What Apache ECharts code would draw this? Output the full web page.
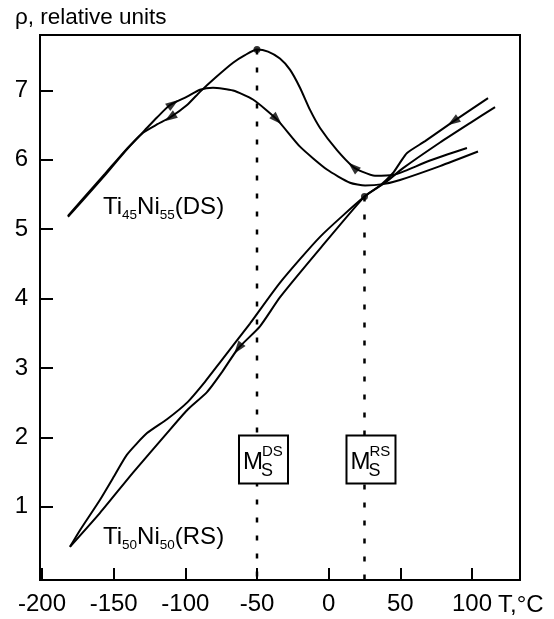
<!DOCTYPE html>
<html>
<head>
<meta charset="utf-8">
<script src="https://cdn.jsdelivr.net/npm/echarts@6/dist/echarts.min.js"></script>
<style>
html, body { margin: 0; padding: 0; background: #fff; }
#main { width: 554px; height: 619px; }
</style>
</head>
<body>
<div id="main"></div>
<script>
// axis ticks
const xTicks = [-200, -150, -100, -50, 0, 50, 100]
const yTicks = [1, 2, 3, 4, 5, 6, 7]

// Ti45Ni55 (DS): heating and cooling, [T, rho]
const dsHeating = [
  [-181.9, 5.19], [-171.4, 5.44], [-156.0, 5.80], [-142.1, 6.13], [-129.5, 6.40],
  [-119.8, 6.61], [-110.7, 6.79], [-98.8, 6.91], [-89.8, 7.01], [-80.7, 7.04],
  [-66.7, 7.00], [-52.8, 6.87], [-36.0, 6.58], [-20.0, 6.19], [-1.2, 5.86],
  [14.9, 5.67], [25.4, 5.63], [37.9, 5.65], [49.8, 5.71], [77.7, 5.91], [104.2, 6.12]
]
const dsCooling = [
  [96.5, 6.17], [70.7, 5.99], [53.3, 5.84], [44.9, 5.78], [32.3, 5.77], [23.3, 5.83],
  [17.0, 5.90], [5.8, 6.14], [-6.0, 6.46], [-13.0, 6.72], [-20.0, 7.04], [-27.0, 7.30],
  [-34.0, 7.46], [-42.3, 7.56], [-50.0, 7.59], [-58.4, 7.51], [-66.7, 7.40], [-79.3, 7.18],
  [-89.8, 6.98], [-98.8, 6.79], [-110.7, 6.61], [-119.8, 6.51], [-129.5, 6.39],
  [-142.1, 6.12], [-156.0, 5.78], [-171.4, 5.42], [-181.9, 5.18]
]

// Ti50Ni50 (RS)
const rsHeating = [
  [-180.5, 0.42], [-173.5, 0.66], [-159.5, 1.10], [-149.1, 1.46], [-140.7, 1.75],
  [-126.7, 2.06], [-112.8, 2.26], [-98.8, 2.50], [-86.3, 2.80], [-75.8, 3.08],
  [-54.9, 3.64], [-33.9, 4.23], [-6.0, 4.89], [25.0, 5.47], [39.3, 5.67],
  [51.9, 5.88], [77.7, 6.25], [98.6, 6.53], [116.1, 6.76]
]
const rsCooling = [
  [111.2, 6.89], [86.8, 6.55], [67.3, 6.27], [54.7, 6.10], [49.8, 5.96], [44.9, 5.81],
  [35.9, 5.63], [25.0, 5.47], [-6.0, 4.72], [-33.9, 4.02], [-47.9, 3.60], [-63.2, 3.28],
  [-74.4, 2.94], [-84.9, 2.65], [-98.8, 2.39], [-112.8, 2.06], [-136.5, 1.49],
  [-159.5, 0.91], [-180.5, 0.42]
]

// martensite start points (Ms)
const msDS = [-50, 7.59]
const msRS = [25, 5.47]

// arrow heads: [T, rho, direction in degrees]
const arrows = [
  [-108.6, 6.81, 35],
  [-110.7, 6.61, 214],
  [-36.0, 6.58, -45],
  [17.0, 5.90, 139],
  [86.8, 6.55, 214],
  [-63.2, 3.28, 233]
]

const xMin = -201.4
const xMax = 133.5
const yMin = -0.058
const yMax = 7.8

const font = 'Liberation Sans, Arial, sans-serif'

const chart = echarts.init(document.getElementById('main'))

function curve (data) {
  return {
    type: 'line',
    data: data,
    smooth: 0.2,
    symbol: 'none',
    silent: true,
    lineStyle: { color: '#000', width: 2 },
    z: 3
  }
}

function dotted (p) {
  return {
    type: 'line',
    data: [[p[0], p[1]], [p[0], yMin]],
    symbol: 'none',
    silent: true,
    lineStyle: { color: '#000', width: 2.5, type: [5, 13] },
    z: 2
  }
}

chart.setOption({
  animation: false,
  grid: {
    left: 40, right: 34, top: 35, bottom: 39,
    show: true, borderColor: '#000', borderWidth: 2
  },
  xAxis: {
    type: 'value', min: xMin, max: xMax,
    axisLine: { show: false, onZero: false },
    splitLine: { show: false },
    axisTick: { inside: true, length: 12, customValues: xTicks, lineStyle: { color: '#000', width: 2 } },
    axisLabel: { customValues: xTicks, margin: 12, color: '#000', fontSize: 24, fontFamily: font }
  },
  yAxis: {
    type: 'value', min: yMin, max: yMax,
    axisLine: { show: false, onZero: false },
    splitLine: { show: false },
    axisTick: { inside: true, length: 13, customValues: yTicks, lineStyle: { color: '#000', width: 2 } },
    axisLabel: { customValues: yTicks, margin: 12, color: '#000', fontSize: 24, fontFamily: font }
  },
  series: [
    curve(dsHeating),
    curve(dsCooling),
    curve(rsHeating),
    curve(rsCooling),
    dotted(msDS),
    dotted(msRS),
    {
      type: 'scatter',
      data: [msDS, msRS],
      symbol: 'circle',
      symbolSize: 7,
      itemStyle: { color: '#000' },
      z: 5
    },
    {
      type: 'scatter',
      data: arrows.map(a => ({ value: [a[0], a[1]], symbolRotate: a[2] - 90 })),
      symbol: 'triangle',
      symbolSize: [9, 13],
      itemStyle: { color: '#000' },
      z: 5
    }
  ]
})

// annotations
function txt (text, x, baseline, size) {
  return {
    type: 'text',
    z: 100,
    style: {
      text: text, x: x, y: baseline - 0.35 * size,
      font: size + 'px ' + font, fill: '#000',
      verticalAlign: 'middle'
    }
  }
}

const sub = { fontSize: 13.5, fontFamily: font, verticalAlign: 'bottom', lineHeight: 15 }
const main = { fontSize: 24, fontFamily: font, lineHeight: 30 }

const graphics = [
  txt('ρ, relative units', 15, 26, 22.5),
  txt('T,°C', 498, 614, 24),
  {
    type: 'text', z: 100,
    style: {
      text: '{m|Ti}{s|45}{m|Ni}{s|55}{m|(DS)}',
      x: 103, y: 207, verticalAlign: 'middle', fill: '#000',
      rich: { m: main, s: sub }
    }
  },
  {
    type: 'text', z: 100,
    style: {
      text: '{m|Ti}{s|50}{m|Ni}{s|50}{m|(RS)}',
      x: 103, y: 537, verticalAlign: 'middle', fill: '#000',
      rich: { m: main, s: sub }
    }
  }
]

const boxY = 1.68
;[[msDS[0], 'DS'], [msRS[0], 'RS']].forEach(([t, tag]) => {
  const c = chart.convertToPixel({ gridIndex: 0 }, [t, boxY])
  const left = c[0] - 18
  const top = c[1] - 24
  graphics.push({
    type: 'rect', z: 99,
    shape: { x: left, y: top, width: 49, height: 48 },
    style: { fill: '#fff', stroke: '#000', lineWidth: 2 }
  })
  graphics.push(txt('M', left + 4, top + 35, 24))
  graphics.push(txt('S', left + 22, top + 42, 18))
  graphics.push(txt(tag, left + 23, top + 22, 15))
})

chart.setOption({ graphic: graphics })
</script>
</body>
</html>
